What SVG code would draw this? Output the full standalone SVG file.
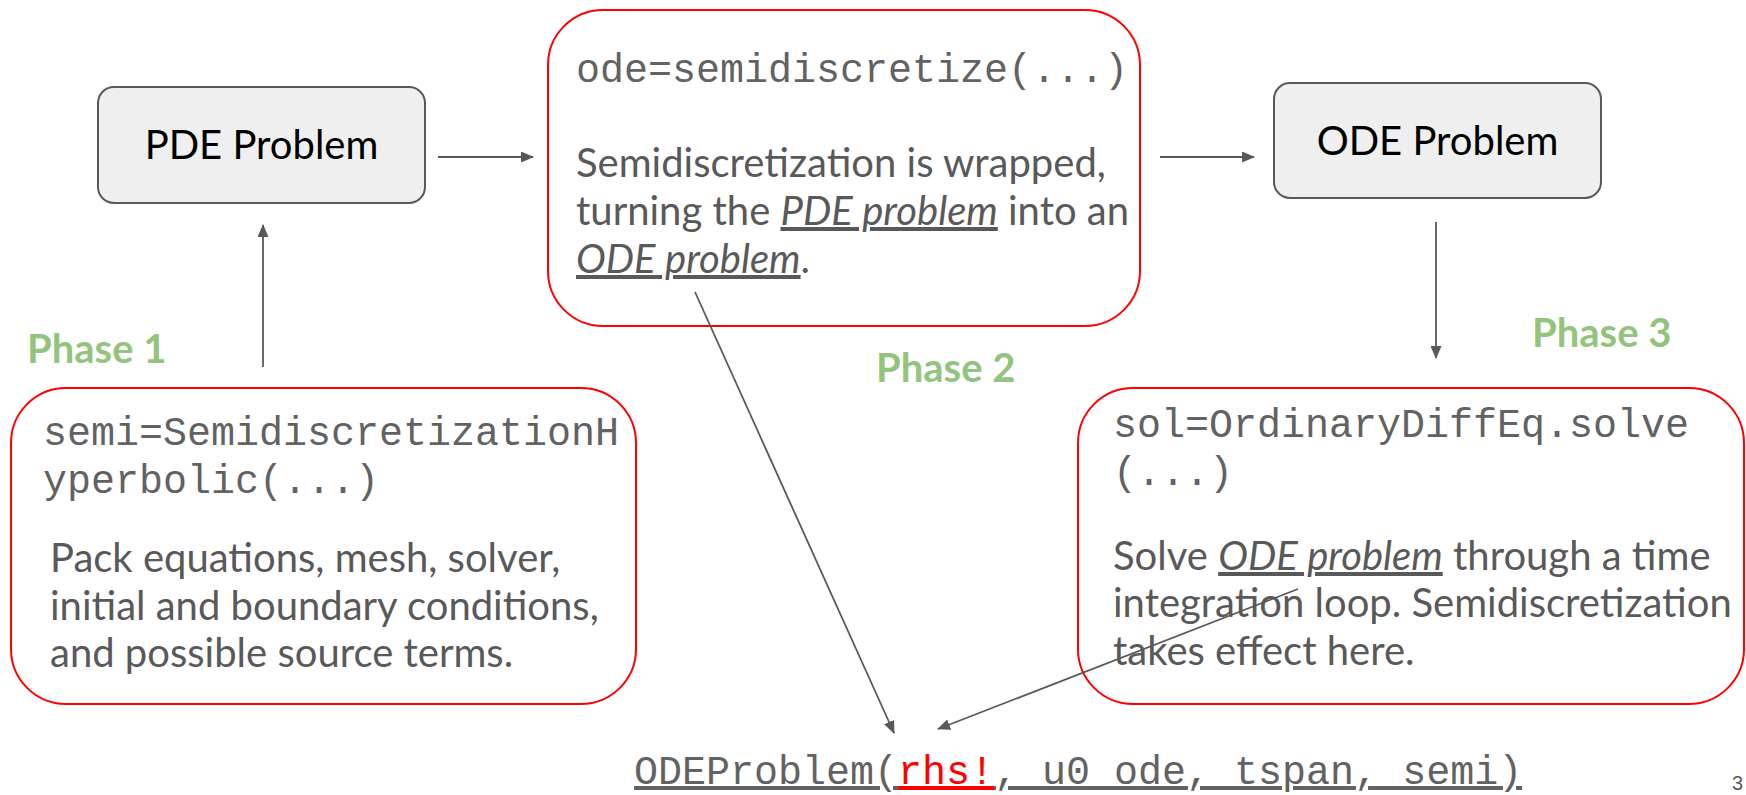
<svg xmlns="http://www.w3.org/2000/svg" width="1746" height="795" viewBox="0 0 1746 795">
<style>
.bg{fill:#ffffff}
.gbox{fill:#efefef;stroke:#595959;stroke-width:2}
.rbox{fill:#ffffff;stroke:#ff0000;stroke-width:2}
.title{font-family:Lato,"Liberation Sans",sans-serif;font-size:40px;fill:#000000}
.code{font-family:"Liberation Mono","Courier New",monospace;font-size:40px;fill:#626262}
.body{font-family:Lato,"Liberation Sans",sans-serif;font-size:40px;fill:#595959}
.phase{font-family:Lato,"Liberation Sans",sans-serif;font-size:40px;font-weight:bold;fill:#93c47d}
.em{font-style:italic;text-decoration:underline;text-decoration-thickness:3px;text-decoration-skip-ink:none}
.ul{text-decoration:underline;text-decoration-thickness:3px;text-decoration-skip-ink:none}
.red{fill:#ff0000}
.conn line{stroke:#595959;stroke-width:1.8}
.pg{font-family:"Liberation Sans",sans-serif;font-size:20px;fill:#595959}
</style>
<defs>
<marker id="ah" markerUnits="userSpaceOnUse" markerWidth="13" markerHeight="11" refX="12" refY="5.5" orient="auto">
<path d="M0,0 L13,5.5 L0,11 z" fill="#595959"/>
</marker>
</defs>
<rect class="bg" x="0" y="0" width="1746" height="795"/>

<g id="pde-problem">
<rect class="gbox" x="98" y="87" width="327" height="116" rx="16"/>
<text class="title" x="261.5" y="159" text-anchor="middle">PDE Problem</text>
</g>

<g id="ode-problem">
<rect class="gbox" x="1274" y="83" width="327" height="115" rx="16"/>
<text class="title" x="1437.5" y="155" text-anchor="middle">ODE Problem</text>
</g>

<g id="semidiscretize">
<rect class="rbox" x="548" y="10" width="592" height="316" rx="55"/>
<text class="code" x="576" y="82">ode=semidiscretize(...)</text>
<text class="body" x="576" y="177">Semidiscretization is wrapped,</text>
<text class="body" x="576" y="225">turning the <tspan class="em">PDE problem</tspan> into an</text>
<text class="body" x="576" y="273"><tspan class="em">ODE problem</tspan>.</text>
</g>

<g id="semi-hyperbolic">
<rect class="rbox" x="11" y="388" width="625" height="316" rx="55"/>
<text class="code" x="43" y="445">semi=SemidiscretizationH</text>
<text class="code" x="43" y="493">yperbolic(...)</text>
<text class="body" x="50" y="572">Pack equations, mesh, solver,</text>
<text class="body" x="50" y="620">initial and boundary conditions,</text>
<text class="body" x="50" y="667">and possible source terms.</text>
</g>

<g id="solve">
<rect class="rbox" x="1078" y="388" width="666" height="316" rx="55"/>
<text class="code" x="1113" y="437">sol=OrdinaryDiffEq.solve</text>
<text class="code" x="1113" y="485">(...)</text>
<text class="body" x="1113" y="570">Solve <tspan class="em">ODE problem</tspan> through a time</text>
<text class="body" x="1113" y="617">integration loop. Semidiscretization</text>
<text class="body" x="1113" y="665">takes effect here.</text>
</g>

<g id="ode-problem-call">
<text class="code" x="634" y="784"><tspan class="ul">ODEProblem(</tspan><tspan class="ul red">rhs!</tspan><tspan class="ul">, u0_ode, tspan, semi)</tspan></text>
</g>

<g id="phase-labels">
<text class="phase" x="27" y="363">Phase 1</text>
<text class="phase" x="876" y="382">Phase 2</text>
<text class="phase" x="1532" y="347">Phase 3</text>
</g>

<text class="pg" x="1732" y="790">3</text>

<g id="connectors" class="conn">
<line x1="438" y1="157" x2="533" y2="157" marker-end="url(#ah)"/>
<line x1="1160" y1="157" x2="1254" y2="157" marker-end="url(#ah)"/>
<line x1="263" y1="367" x2="263" y2="225" marker-end="url(#ah)"/>
<line x1="1436" y1="222" x2="1436" y2="358" marker-end="url(#ah)"/>
<line x1="695" y1="292" x2="894" y2="733" marker-end="url(#ah)"/>
<line x1="1298" y1="589" x2="938" y2="729" marker-end="url(#ah)"/>
</g>
</svg>
